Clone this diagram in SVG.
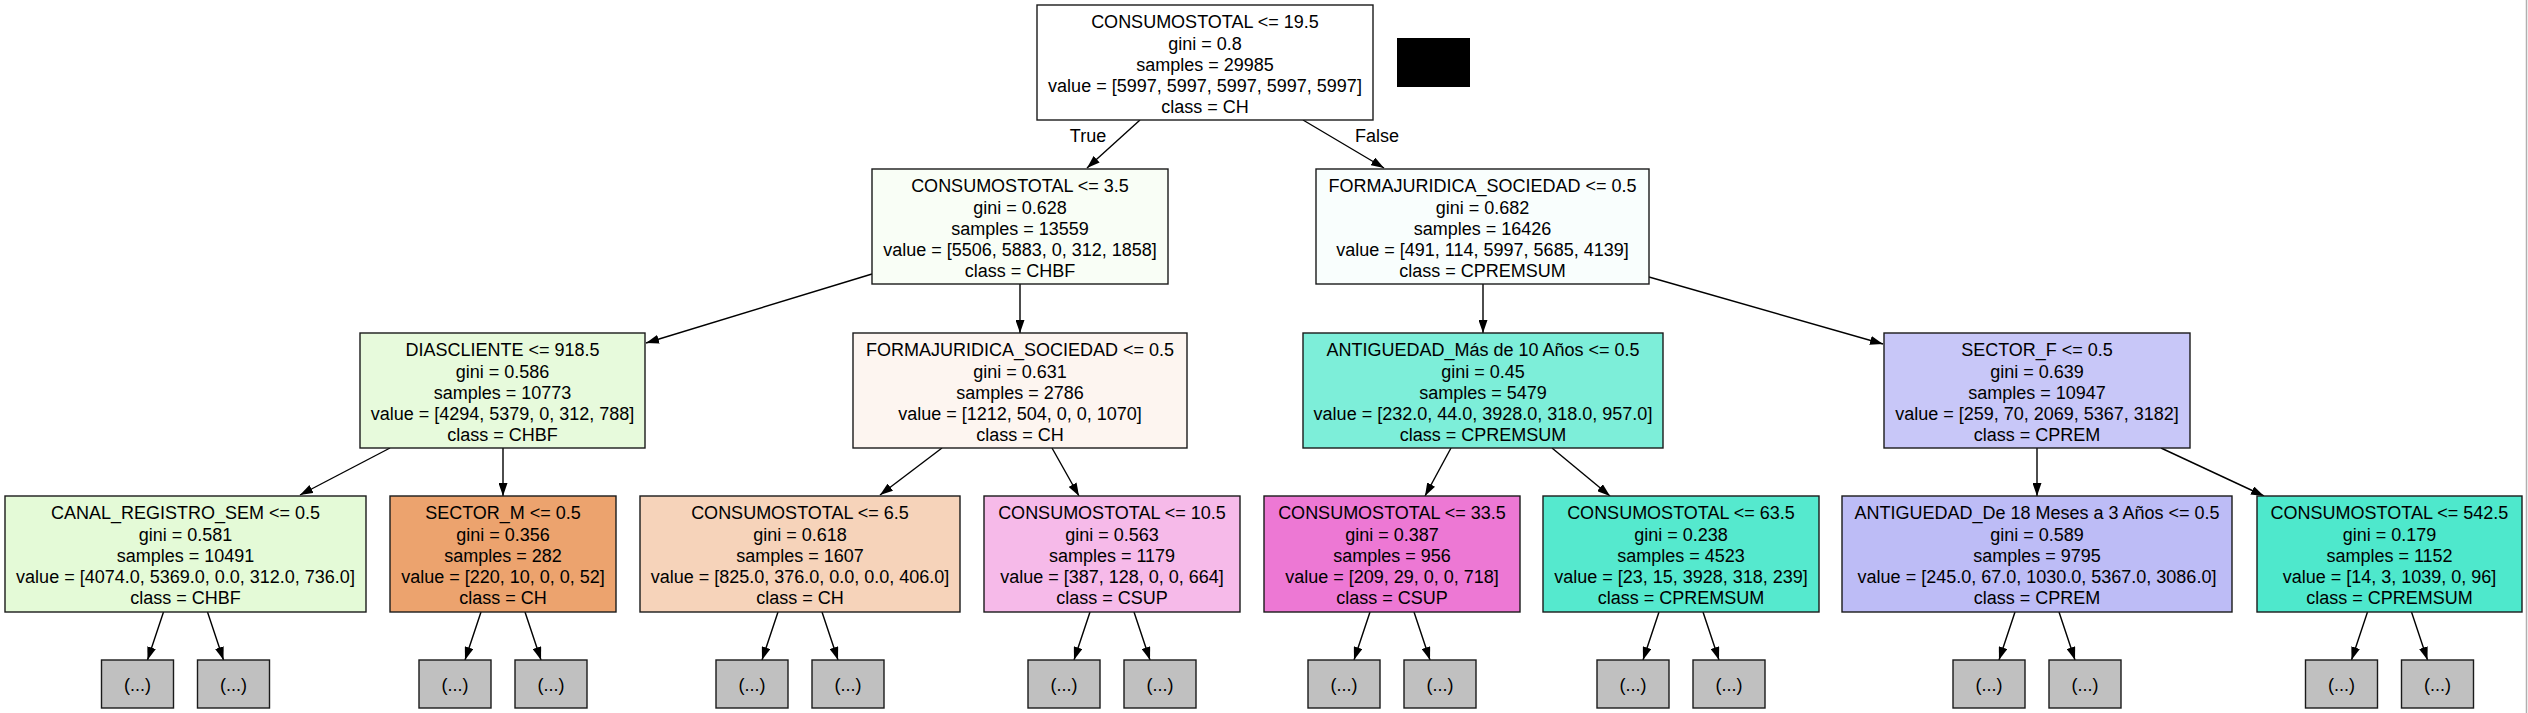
<svg xmlns="http://www.w3.org/2000/svg" width="2528" height="713" viewBox="0 0 2528 713">
<style>
  .box{stroke:#1a1a1a;stroke-width:1.4}
  .leaf{fill:#c0c0c0;stroke:#1a1a1a;stroke-width:1.4}
  text{font-family:"Liberation Sans",Arial,Helvetica,sans-serif;font-size:18px;fill:#000;text-anchor:middle}
  .e line{stroke:#000;stroke-width:1.4;fill:none}
</style>
<defs>
  <marker id="ah" viewBox="0 0 13 9" refX="13" refY="4.5" markerWidth="13" markerHeight="9" markerUnits="userSpaceOnUse" orient="auto">
    <path d="M0,0 L13,4.5 L0,9 z" fill="#000"/>
  </marker>
</defs>
<rect width="2528" height="713" fill="#fff"/>
<line x1="2526.5" y1="0" x2="2526.5" y2="713" stroke="#b0b0b0" stroke-width="1.5"/>
<rect x="1397" y="38" width="73" height="49" fill="#000"/>

<g id="connectors" class="e">
  <line x1="1140" y1="120" x2="1087" y2="168" marker-end="url(#ah)"/>
  <line x1="1303" y1="120" x2="1384" y2="168" marker-end="url(#ah)"/>
  <line x1="872" y1="274" x2="646" y2="343" marker-end="url(#ah)"/>
  <line x1="1020" y1="284" x2="1020" y2="333" marker-end="url(#ah)"/>
  <line x1="1483" y1="284" x2="1483" y2="333" marker-end="url(#ah)"/>
  <line x1="1649" y1="277" x2="1883" y2="344" marker-end="url(#ah)"/>
  <line x1="390" y1="448" x2="300" y2="495" marker-end="url(#ah)"/>
  <line x1="503" y1="448" x2="503" y2="496" marker-end="url(#ah)"/>
  <line x1="942" y1="448" x2="880" y2="495" marker-end="url(#ah)"/>
  <line x1="1052" y1="448" x2="1079" y2="496" marker-end="url(#ah)"/>
  <line x1="1451" y1="448" x2="1425" y2="496" marker-end="url(#ah)"/>
  <line x1="1552" y1="448" x2="1610" y2="496" marker-end="url(#ah)"/>
  <line x1="2037" y1="448" x2="2037" y2="496" marker-end="url(#ah)"/>
  <line x1="2161" y1="448" x2="2264" y2="496" marker-end="url(#ah)"/>
  <!-- leaf edges -->
  <line x1="163.5" y1="612" x2="147.5" y2="660" marker-end="url(#ah)"/>
  <line x1="207.5" y1="612" x2="223.5" y2="660" marker-end="url(#ah)"/>
  <line x1="481" y1="612" x2="465" y2="660" marker-end="url(#ah)"/>
  <line x1="525" y1="612" x2="541" y2="660" marker-end="url(#ah)"/>
  <line x1="778" y1="612" x2="762" y2="660" marker-end="url(#ah)"/>
  <line x1="822" y1="612" x2="838" y2="660" marker-end="url(#ah)"/>
  <line x1="1090" y1="612" x2="1074" y2="660" marker-end="url(#ah)"/>
  <line x1="1134" y1="612" x2="1150" y2="660" marker-end="url(#ah)"/>
  <line x1="1370" y1="612" x2="1354" y2="660" marker-end="url(#ah)"/>
  <line x1="1414" y1="612" x2="1430" y2="660" marker-end="url(#ah)"/>
  <line x1="1659" y1="612" x2="1643" y2="660" marker-end="url(#ah)"/>
  <line x1="1703" y1="612" x2="1719" y2="660" marker-end="url(#ah)"/>
  <line x1="2015" y1="612" x2="1999" y2="660" marker-end="url(#ah)"/>
  <line x1="2059" y1="612" x2="2075" y2="660" marker-end="url(#ah)"/>
  <line x1="2367.5" y1="612" x2="2351.5" y2="660" marker-end="url(#ah)"/>
  <line x1="2411.5" y1="612" x2="2427.5" y2="660" marker-end="url(#ah)"/>
  <text x="1088" y="142">True</text>
  <text x="1377" y="142">False</text>
</g>

<g id="n0">
  <rect class="box" x="1037" y="5" width="336" height="115" fill="#ffffff"/>
  <text x="1205" y="28.3">CONSUMOSTOTAL &lt;= 19.5<tspan x="1205" dy="21.25">gini = 0.8</tspan><tspan x="1205" dy="21.25">samples = 29985</tspan><tspan x="1205" dy="21.25">value = [5997, 5997, 5997, 5997, 5997]</tspan><tspan x="1205" dy="21.25">class = CH</tspan></text>
</g>
<g id="n1">
  <rect class="box" x="872" y="169" width="296" height="115" fill="#f9fef6"/>
  <text x="1020" y="192.3">CONSUMOSTOTAL &lt;= 3.5<tspan x="1020" dy="21.25">gini = 0.628</tspan><tspan x="1020" dy="21.25">samples = 13559</tspan><tspan x="1020" dy="21.25">value = [5506, 5883, 0, 312, 1858]</tspan><tspan x="1020" dy="21.25">class = CHBF</tspan></text>
</g>
<g id="n2">
  <rect class="box" x="1316" y="169" width="333" height="115" fill="#f9fefd"/>
  <text x="1482.5" y="192.3">FORMAJURIDICA_SOCIEDAD &lt;= 0.5<tspan x="1482.5" dy="21.25">gini = 0.682</tspan><tspan x="1482.5" dy="21.25">samples = 16426</tspan><tspan x="1482.5" dy="21.25">value = [491, 114, 5997, 5685, 4139]</tspan><tspan x="1482.5" dy="21.25">class = CPREMSUM</tspan></text>
</g>
<g id="n3">
  <rect class="box" x="360" y="333" width="285" height="115" fill="#e7fadc"/>
  <text x="502.5" y="356.3">DIASCLIENTE &lt;= 918.5<tspan x="502.5" dy="21.25">gini = 0.586</tspan><tspan x="502.5" dy="21.25">samples = 10773</tspan><tspan x="502.5" dy="21.25">value = [4294, 5379, 0, 312, 788]</tspan><tspan x="502.5" dy="21.25">class = CHBF</tspan></text>
</g>
<g id="n4">
  <rect class="box" x="853" y="333" width="334" height="115" fill="#fdf5f0"/>
  <text x="1020" y="356.3">FORMAJURIDICA_SOCIEDAD &lt;= 0.5<tspan x="1020" dy="21.25">gini = 0.631</tspan><tspan x="1020" dy="21.25">samples = 2786</tspan><tspan x="1020" dy="21.25">value = [1212, 504, 0, 0, 1070]</tspan><tspan x="1020" dy="21.25">class = CH</tspan></text>
</g>
<g id="n5">
  <rect class="box" x="1303" y="333" width="360" height="115" fill="#7deed9"/>
  <text x="1483" y="356.3">ANTIGUEDAD_Más de 10 Años &lt;= 0.5<tspan x="1483" dy="21.25">gini = 0.45</tspan><tspan x="1483" dy="21.25">samples = 5479</tspan><tspan x="1483" dy="21.25">value = [232.0, 44.0, 3928.0, 318.0, 957.0]</tspan><tspan x="1483" dy="21.25">class = CPREMSUM</tspan></text>
</g>
<g id="n6">
  <rect class="box" x="1884" y="333" width="306" height="115" fill="#c8c7f8"/>
  <text x="2037" y="356.3">SECTOR_F &lt;= 0.5<tspan x="2037" dy="21.25">gini = 0.639</tspan><tspan x="2037" dy="21.25">samples = 10947</tspan><tspan x="2037" dy="21.25">value = [259, 70, 2069, 5367, 3182]</tspan><tspan x="2037" dy="21.25">class = CPREM</tspan></text>
</g>
<g id="n7">
  <rect class="box" x="5" y="496" width="361" height="116" fill="#e4fad7"/>
  <text x="185.5" y="519.3">CANAL_REGISTRO_SEM &lt;= 0.5<tspan x="185.5" dy="21.25">gini = 0.581</tspan><tspan x="185.5" dy="21.25">samples = 10491</tspan><tspan x="185.5" dy="21.25">value = [4074.0, 5369.0, 0.0, 312.0, 736.0]</tspan><tspan x="185.5" dy="21.25">class = CHBF</tspan></text>
</g>
<g id="n8">
  <rect class="box" x="390" y="496" width="226" height="116" fill="#eca36e"/>
  <text x="503" y="519.3">SECTOR_M &lt;= 0.5<tspan x="503" dy="21.25">gini = 0.356</tspan><tspan x="503" dy="21.25">samples = 282</tspan><tspan x="503" dy="21.25">value = [220, 10, 0, 0, 52]</tspan><tspan x="503" dy="21.25">class = CH</tspan></text>
</g>
<g id="n9">
  <rect class="box" x="640" y="496" width="320" height="116" fill="#f6d3ba"/>
  <text x="800" y="519.3">CONSUMOSTOTAL &lt;= 6.5<tspan x="800" dy="21.25">gini = 0.618</tspan><tspan x="800" dy="21.25">samples = 1607</tspan><tspan x="800" dy="21.25">value = [825.0, 376.0, 0.0, 0.0, 406.0]</tspan><tspan x="800" dy="21.25">class = CH</tspan></text>
</g>
<g id="n10">
  <rect class="box" x="984" y="496" width="256" height="116" fill="#f6bae9"/>
  <text x="1112" y="519.3">CONSUMOSTOTAL &lt;= 10.5<tspan x="1112" dy="21.25">gini = 0.563</tspan><tspan x="1112" dy="21.25">samples = 1179</tspan><tspan x="1112" dy="21.25">value = [387, 128, 0, 0, 664]</tspan><tspan x="1112" dy="21.25">class = CSUP</tspan></text>
</g>
<g id="n11">
  <rect class="box" x="1264" y="496" width="256" height="116" fill="#ed78d4"/>
  <text x="1392" y="519.3">CONSUMOSTOTAL &lt;= 33.5<tspan x="1392" dy="21.25">gini = 0.387</tspan><tspan x="1392" dy="21.25">samples = 956</tspan><tspan x="1392" dy="21.25">value = [209, 29, 0, 0, 718]</tspan><tspan x="1392" dy="21.25">class = CSUP</tspan></text>
</g>
<g id="n12">
  <rect class="box" x="1543" y="496" width="276" height="116" fill="#55e9ce"/>
  <text x="1681" y="519.3">CONSUMOSTOTAL &lt;= 63.5<tspan x="1681" dy="21.25">gini = 0.238</tspan><tspan x="1681" dy="21.25">samples = 4523</tspan><tspan x="1681" dy="21.25">value = [23, 15, 3928, 318, 239]</tspan><tspan x="1681" dy="21.25">class = CPREMSUM</tspan></text>
</g>
<g id="n13">
  <rect class="box" x="1842" y="496" width="390" height="116" fill="#bdbcf6"/>
  <text x="2037" y="519.3">ANTIGUEDAD_De 18 Meses a 3 Años &lt;= 0.5<tspan x="2037" dy="21.25">gini = 0.589</tspan><tspan x="2037" dy="21.25">samples = 9795</tspan><tspan x="2037" dy="21.25">value = [245.0, 67.0, 1030.0, 5367.0, 3086.0]</tspan><tspan x="2037" dy="21.25">class = CPREM</tspan></text>
</g>
<g id="n14">
  <rect class="box" x="2257" y="496" width="265" height="116" fill="#4ee8cc"/>
  <text x="2389.5" y="519.3">CONSUMOSTOTAL &lt;= 542.5<tspan x="2389.5" dy="21.25">gini = 0.179</tspan><tspan x="2389.5" dy="21.25">samples = 1152</tspan><tspan x="2389.5" dy="21.25">value = [14, 3, 1039, 0, 96]</tspan><tspan x="2389.5" dy="21.25">class = CPREMSUM</tspan></text>
</g>

<g id="l1"><rect class="leaf" x="101.5" y="660" width="72" height="48"/><text x="137.5" y="691">(...)</text></g>
<g id="l2"><rect class="leaf" x="197.5" y="660" width="72" height="48"/><text x="233.5" y="691">(...)</text></g>
<g id="l3"><rect class="leaf" x="419" y="660" width="72" height="48"/><text x="455" y="691">(...)</text></g>
<g id="l4"><rect class="leaf" x="515" y="660" width="72" height="48"/><text x="551" y="691">(...)</text></g>
<g id="l5"><rect class="leaf" x="716" y="660" width="72" height="48"/><text x="752" y="691">(...)</text></g>
<g id="l6"><rect class="leaf" x="812" y="660" width="72" height="48"/><text x="848" y="691">(...)</text></g>
<g id="l7"><rect class="leaf" x="1028" y="660" width="72" height="48"/><text x="1064" y="691">(...)</text></g>
<g id="l8"><rect class="leaf" x="1124" y="660" width="72" height="48"/><text x="1160" y="691">(...)</text></g>
<g id="l9"><rect class="leaf" x="1308" y="660" width="72" height="48"/><text x="1344" y="691">(...)</text></g>
<g id="l10"><rect class="leaf" x="1404" y="660" width="72" height="48"/><text x="1440" y="691">(...)</text></g>
<g id="l11"><rect class="leaf" x="1597" y="660" width="72" height="48"/><text x="1633" y="691">(...)</text></g>
<g id="l12"><rect class="leaf" x="1693" y="660" width="72" height="48"/><text x="1729" y="691">(...)</text></g>
<g id="l13"><rect class="leaf" x="1953" y="660" width="72" height="48"/><text x="1989" y="691">(...)</text></g>
<g id="l14"><rect class="leaf" x="2049" y="660" width="72" height="48"/><text x="2085" y="691">(...)</text></g>
<g id="l15"><rect class="leaf" x="2305.5" y="660" width="72" height="48"/><text x="2341.5" y="691">(...)</text></g>
<g id="l16"><rect class="leaf" x="2401.5" y="660" width="72" height="48"/><text x="2437.5" y="691">(...)</text></g>
</svg>
